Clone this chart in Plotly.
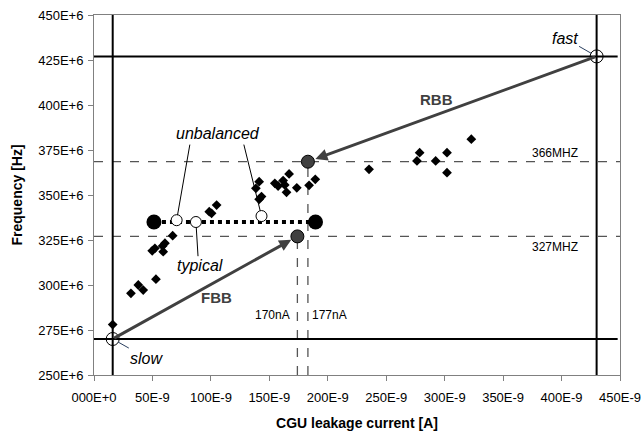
import plotly.graph_objects as go

# measured points (x in A, y in Hz)
meas_x = [16, 31.6, 37.9, 42.1, 53, 49.8, 52.1, 58.7, 60.7, 59.2, 67.3, 98.6, 100.6, 104.9,
          138.5, 141.3, 143.3, 141.3, 154.7, 157.5, 161.8, 163.2, 164.7, 166.9, 173.5, 184,
          189.3, 235.3, 276.3, 278.6, 292.3, 302, 302, 322.8]
meas_y = [278, 295.4, 300, 297.2, 303.2, 319, 320.4, 321.7, 323.2, 318.5, 327.4, 340.7, 339.8, 344.4,
          353.7, 357.4, 349.1, 347.6, 356.5, 355, 358, 355.6, 351.5, 361.7, 354, 355.4,
          358.7, 364.3, 368.9, 373.5, 368.9, 373.5, 362.4, 381]
meas_x = [v * 1e-9 for v in meas_x]
meas_y = [v * 1e6 for v in meas_y]

# corners
slow = (16e-9, 270e6)
fast = (430e-9, 427e6)
fbb_pt = (174e-9, 327e6)
rbb_pt = (183e-9, 368.5e6)

# typical / unbalanced
span_x = [51.3e-9, 189.5e-9]
span_y = 335e6
open_x = [70.7e-9, 87.2e-9, 143.3e-9]
open_y = [336e6, 335e6, 338.3e6]

hlines_solid = [427e6, 270e6]
vlines_solid = [16e-9, 430e-9]
hlines_dash = [368.5e6, 327e6]

xticks = [i * 50e-9 for i in range(10)]
xtick_text = ["000E+0"] + ["%dE-9" % (i * 50) for i in range(1, 10)]
yticks = [250e6 + i * 25e6 for i in range(9)]
ytick_text = ["%dE+6" % (v / 1e6) for v in yticks]

X0, X1 = 0, 450e-9
Y0, Y1 = 250e6, 450e6
dark = "#404040"

fig = go.Figure()

for y in hlines_dash:
    fig.add_trace(go.Scatter(x=[X0, X1], y=[y, y], mode="lines",
                             line=dict(color="#555555", width=1.3, dash="dash"), hoverinfo="skip"))
fig.add_trace(go.Scatter(x=[fbb_pt[0], fbb_pt[0]], y=[Y0, fbb_pt[1]], mode="lines",
                         line=dict(color="#555555", width=1.3, dash="dash"), hoverinfo="skip"))
fig.add_trace(go.Scatter(x=[rbb_pt[0], rbb_pt[0]], y=[Y0, rbb_pt[1]], mode="lines",
                         line=dict(color="#555555", width=1.3, dash="dash"), hoverinfo="skip"))

for y in hlines_solid:
    fig.add_trace(go.Scatter(x=[X0, 448e-9], y=[y, y], mode="lines",
                             line=dict(color="black", width=2), hoverinfo="skip"))
for x in vlines_solid:
    fig.add_trace(go.Scatter(x=[x, x], y=[Y0, Y1], mode="lines",
                             line=dict(color="black", width=2), hoverinfo="skip"))

# pointer lines for unbalanced / typical
fig.add_trace(go.Scatter(x=[82e-9, open_x[0], None, 128.2e-9, open_x[2], None, 89e-9, open_x[1]],
                         y=[378e6, open_y[0], None, 378e6, open_y[2], None, 316e6, open_y[1]],
                         mode="lines", line=dict(color="black", width=1), hoverinfo="skip"))

fig.add_trace(go.Scatter(x=meas_x, y=meas_y, mode="markers",
                         marker=dict(symbol="diamond", size=7.5, color="black"), hoverinfo="skip"))

fig.add_trace(go.Scatter(x=span_x, y=[span_y, span_y], mode="lines",
                         line=dict(color="black", width=4, dash="dot"), hoverinfo="skip"))
fig.add_trace(go.Scatter(x=span_x, y=[span_y, span_y], mode="markers",
                         marker=dict(size=15, color="black"), hoverinfo="skip"))
fig.add_trace(go.Scatter(x=open_x, y=open_y, mode="markers",
                         marker=dict(size=11, color="white", line=dict(color="black", width=1)),
                         hoverinfo="skip"))

fig.add_trace(go.Scatter(x=[fbb_pt[0], rbb_pt[0]], y=[fbb_pt[1], rbb_pt[1]], mode="markers",
                         marker=dict(size=13, color=dark, line=dict(color="black", width=1)),
                         hoverinfo="skip"))
fig.add_trace(go.Scatter(x=[slow[0], fast[0]], y=[slow[1], fast[1]], mode="markers",
                         marker=dict(symbol="circle-open", size=13, color="black", line=dict(width=1)),
                         hoverinfo="skip"))

ann = []
# bias arrows
ann.append(dict(x=fbb_pt[0], y=fbb_pt[1], ax=slow[0], ay=slow[1], axref="x", ayref="y",
                xref="x", yref="y", showarrow=True, arrowhead=2, arrowsize=0.8, arrowwidth=3,
                arrowcolor=dark, standoff=7, text=""))
ann.append(dict(x=rbb_pt[0], y=rbb_pt[1], ax=fast[0], ay=fast[1], axref="x", ayref="y",
                xref="x", yref="y", showarrow=True, arrowhead=2, arrowsize=0.8, arrowwidth=3,
                arrowcolor=dark, standoff=8, text=""))
ann.append(dict(x=104.9e-9, y=292.8e6, text="<b>FBB</b>", showarrow=False,
                font=dict(size=15, color=dark)))
ann.append(dict(x=292.9e-9, y=402.8e6, text="<b>RBB</b>", showarrow=False,
                font=dict(size=15, color=dark)))
# labels
ann.append(dict(x=slow[0], y=slow[1], ax=45e-9, ay=259.4e6, axref="x", ayref="y",
                text="<i>slow</i>", showarrow=True, arrowhead=0, arrowwidth=1, standoff=6,
                font=dict(size=16, color="black")))
ann.append(dict(x=fast[0], y=fast[1], ax=402.6e-9, ay=437.2e6, axref="x", ayref="y",
                text="<i>fast</i>", showarrow=True, arrowhead=0, arrowwidth=1, standoff=6,
                font=dict(size=16, color="black")))
ann.append(dict(x=90.6e-9, y=311e6, text="<i>typical</i>", showarrow=False,
                font=dict(size=16, color="black")))
ann.append(dict(x=106.4e-9, y=384.3e6, text="<i>unbalanced</i>", showarrow=False,
                font=dict(size=16, color="black")))
ann.append(dict(x=416e-9, y=373.2e6, text="366MHZ", showarrow=False, xanchor="right",
                font=dict(size=12, color="black")))
ann.append(dict(x=416e-9, y=321e6, text="327MHZ", showarrow=False, xanchor="right",
                font=dict(size=12, color="black")))
ann.append(dict(x=153e-9, y=283.3e6, text="170nA", showarrow=False, font=dict(size=12, color="black")))
ann.append(dict(x=201.7e-9, y=283.3e6, text="177nA", showarrow=False, font=dict(size=12, color="black")))

fig.update_layout(
    width=644, height=438,
    margin=dict(l=94, r=24, t=15, b=63),
    paper_bgcolor="white", plot_bgcolor="white",
    showlegend=False,
    font=dict(family="Liberation Sans, Arial, sans-serif", size=13, color="black"),
    annotations=ann,
)
fig.update_xaxes(range=[X0, X1], tickvals=xticks, ticktext=xtick_text, showgrid=False, zeroline=False,
                 showline=True, linecolor="#808080", linewidth=1, mirror=True, automargin=False,
                 ticks="outside", ticklen=5, tickcolor="#808080", ticklabelstandoff=5,
                 ticklabeloverflow="allow",
                 title=dict(text="<b>CGU leakage current [A]</b>", font=dict(size=14), standoff=14))
fig.update_yaxes(range=[Y0, Y1], tickvals=yticks, ticktext=ytick_text, showgrid=False, zeroline=False,
                 showline=True, linecolor="#808080", linewidth=1, mirror=True, automargin=False,
                 ticks="outside", ticklen=5, tickcolor="#808080", ticklabelstandoff=2,
                 ticklabeloverflow="allow",
                 title=dict(text="<b>Frequency [Hz]</b>", font=dict(size=14), standoff=12))

# drop the default 8px body margin so the 644x438 figure fills the window
fig.write_html("out.html", config={"displayModeBar": False},
               post_script="document.body.style.margin='0';document.body.style.overflow='hidden';")
